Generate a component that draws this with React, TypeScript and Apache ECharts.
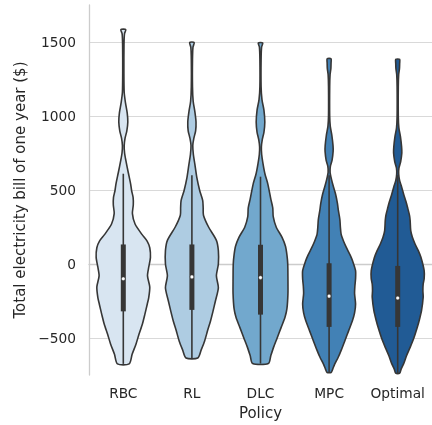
import React, { useEffect, useRef } from "react";
import * as echarts from "echarts";

const categories = ["RBC", "RL", "DLC", "MPC", "Optimal"];
const yMin = -750;
const yMax = 1750;
const fillColors = ["#d8e5f1", "#aecce2", "#72a8cd", "#4281b5", "#215b95"];

// [bill value, relative density] pairs, top to bottom
const rbcDensity: number[][] = [
  [1584, 2.5], [1555, 1.2], [1480, 0.7], [1300, 0.6], [1160, 0.9], [1090, 2.2], [1020, 4], [960, 4.6],
  [900, 3.6], [850, 1.8], [800, 0.9], [750, 1.3], [700, 2.6], [620, 5], [540, 7.5], [495, 8.5], [450, 10],
  [400, 10.2], [340, 9.3], [270, 12], [200, 19], [155, 24.3], [110, 27], [45, 27.7], [-20, 26], [-80, 24.7],
  [-155, 27], [-225, 26], [-270, 24.5], [-340, 22], [-405, 19.5], [-475, 16], [-540, 13], [-610, 9], [-675, 6],
];
const rlDensity: number[][] = [
  [1497, 2.3], [1465, 1.1], [1380, 0.6], [1200, 0.6], [1100, 1.3], [1030, 3], [960, 4.2], [900, 3.8],
  [850, 2], [800, 0.9], [740, 1.5], [675, 3], [585, 5], [495, 8], [430, 11], [380, 11.5], [330, 11.8],
  [250, 17], [160, 25], [90, 27], [0, 27], [-80, 25], [-160, 27], [-250, 24], [-320, 21.5], [-385, 19],
  [-450, 16], [-520, 13], [-580, 9.5], [-635, 6],
];
const dlcDensity: number[][] = [
  [1494, 2.3], [1465, 1.1], [1380, 0.6], [1200, 0.6], [1110, 1.5], [1040, 3.5], [960, 4.4], [890, 3.5],
  [840, 1.8], [790, 0.9], [740, 1.2], [680, 2.5], [610, 4.5], [540, 7.5], [440, 10.5], [380, 12.5],
  [320, 13], [250, 16], [180, 22], [120, 25.5], [60, 27], [0, 27.8], [-100, 28], [-200, 28], [-300, 27],
  [-360, 25], [-430, 21], [-500, 17], [-560, 13.5], [-620, 10.5], [-673, 8],
];
const mpcDensity: number[][] = [
  [1387, 2], [1360, 2], [1320, 1.8], [1280, 1], [1200, 0.6], [1000, 0.6], [930, 1.2], [870, 2.8],
  [800, 4], [760, 4.1], [700, 3], [660, 1.3], [620, 1], [570, 2.5], [520, 4.5], [470, 6.7], [410, 8.5],
  [360, 9.5], [300, 11], [250, 11.5], [200, 12.3], [150, 15], [110, 17.7], [60, 21.5], [20, 24],
  [-45, 27], [-100, 27], [-150, 26.3], [-200, 26], [-270, 27], [-330, 26], [-385, 23.7], [-450, 20],
  [-520, 16], [-580, 12.5], [-630, 9.3], [-680, 5.5], [-710, 3.7], [-733, 2],
];
const optimalDensity: number[][] = [
  [1383, 2], [1355, 2], [1320, 1.8], [1280, 1], [1200, 0.6], [1000, 0.6], [920, 1.2], [860, 2.8],
  [790, 4], [750, 4.2], [690, 3], [650, 1.3], [610, 1], [563, 2], [520, 4], [473, 6], [420, 8.5],
  [383, 10], [330, 12], [293, 12.7], [225, 13.3], [180, 15], [135, 17.7], [90, 21], [45, 23.7],
  [-45, 27], [-100, 27], [-135, 26], [-180, 25.7], [-225, 26], [-315, 24.3], [-380, 22], [-428, 20],
  [-500, 16.5], [-563, 12.7], [-620, 9], [-675, 6], [-710, 3.5], [-738, 2],
];
const densities = [rbcDensity, rlDensity, dlcDensity, mpcDensity, optimalDensity];

const q1 = [-320, -310, -342, -425, -425];
const medians = [-100, -87, -92, -217, -230];
const q3 = [132, 132, 130, 5, -13];
const whiskerLow = [-675, -635, -673, -733, -738];
const whiskerHigh = [610, 600, 590, 600, 600];

const EDGE = "#363636";
const FONT = "DejaVu Sans";
const TEXT = "#262626";

export default function App() {
  const ref = useRef<HTMLDivElement>(null);
  useEffect(() => {
    if (!ref.current) return;
    const chart = echarts.init(ref.current, undefined, { renderer: "svg" });
    let globalMax = 0;
    densities.forEach((p) => p.forEach(([, d]) => { if (d > globalMax) globalMax = d; }));
    const data = categories.map((_, i) => [i, q1[i], medians[i], q3[i], whiskerLow[i], whiskerHigh[i]]);
    const fmt = (v: number) => (v < 0 ? "\u2212" + Math.abs(v) : String(v));
    chart.setOption({
      animation: false,
      grid: { left: 89, right: -5, top: 5, bottom: 47, containLabel: false },
      xAxis: {
        type: "category",
        data: categories,
        boundaryGap: true,
        axisTick: { show: false },
        axisLine: { show: true, lineStyle: { color: "#cccccc", width: 1.3 } },
        axisLabel: { color: TEXT, fontSize: 13.75, fontFamily: FONT, margin: 11, interval: 0 },
        name: "Policy",
        nameLocation: "middle",
        nameGap: 30,
        nameTextStyle: { color: TEXT, fontSize: 15, fontFamily: FONT },
        splitLine: { show: false },
      },
      yAxis: {
        type: "value",
        min: yMin,
        max: yMax,
        splitNumber: 5,
        minInterval: 500,
        maxInterval: 500,
        axisTick: { show: false },
        axisLine: { show: true, lineStyle: { color: "#cccccc", width: 1.3 } },
        axisLabel: {
          color: TEXT, fontSize: 13.75, fontFamily: FONT, margin: 13,
          showMinLabel: false, showMaxLabel: false, formatter: fmt,
        },
        splitLine: { show: true, showMinLine: false, showMaxLine: false, lineStyle: { color: "#d9d9d9", width: 1.2 } },
        name: "Total electricity bill of one year ($)",
        nameLocation: "middle",
        nameGap: 47,
        nameTextStyle: { color: TEXT, fontSize: 15, fontFamily: FONT },
      },
      series: [
        {
          type: "custom",
          data,
          encode: { x: 0, y: [1, 2, 3, 4, 5] },
          renderItem: (params: any, api: any) => {
            const i = api.value(0);
            const prof = densities[i];
            const cx = api.coord([i, 0])[0];
            const band = api.size([1, 0])[0];
            const maxHalf = band * 0.4;
            const right = prof.map(([v, d]) => [cx + (d / globalMax) * maxHalf, api.coord([i, v])[1]]);
            const left = prof.slice().reverse().map(([v, d]) => [cx - (d / globalMax) * maxHalf, api.coord([i, v])[1]]);
            const yq1 = api.coord([i, api.value(1)])[1];
            const ymed = api.coord([i, api.value(2)])[1];
            const yq3 = api.coord([i, api.value(3)])[1];
            const ywl = api.coord([i, api.value(4)])[1];
            const ywh = api.coord([i, api.value(5)])[1];
            return {
              type: "group",
              children: [
                {
                  type: "polygon",
                  shape: { points: right.concat(left), smooth: 0.25 },
                  style: { fill: fillColors[i], stroke: EDGE, lineWidth: 1.6, lineJoin: "round" },
                },
                { type: "line", shape: { x1: cx, y1: ywl, x2: cx, y2: ywh }, style: { stroke: EDGE, lineWidth: 1.6 } },
                { type: "line", shape: { x1: cx, y1: yq1, x2: cx, y2: yq3 }, style: { stroke: EDGE, lineWidth: 5, lineCap: "butt" } },
                { type: "circle", shape: { cx, cy: ymed, r: 1.8 }, style: { fill: "#ffffff", stroke: EDGE, lineWidth: 0.4 } },
              ],
            };
          },
        },
      ],
    });
    return () => chart.dispose();
  }, []);
  return <div ref={ref} style={{ position: "fixed", left: 0, top: 0, width: 432, height: 425 }} />;
}
